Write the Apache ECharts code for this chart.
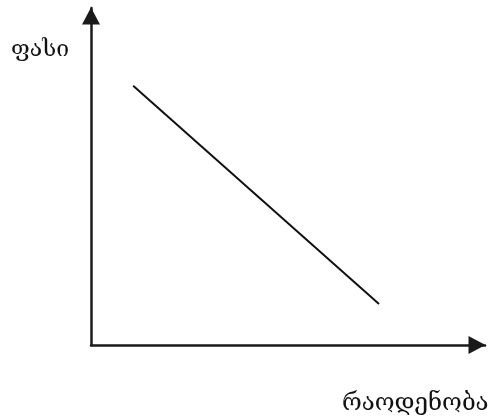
<!DOCTYPE html>
<html>
<head>
<meta charset="utf-8">
<script src="https://cdn.jsdelivr.net/npm/echarts@6/dist/echarts.min.js"></script>
<style>
  html, body { margin: 0; padding: 0; background: #fff; }
  #chart { width: 493px; height: 419px; }
</style>
</head>
<body>
<div id="chart"></div>
<script>
    // demand line: price vs quantity
    var quantity = [10.7, 73.1];
    var price = [76.9, 12.2];
    var xName = 'რაოდენობა';
    var yName = 'ფასი';

    var chart = echarts.init(document.getElementById('chart'));

    var hiddenAxis = {
        type: 'value',
        min: 0,
        max: 100,
        splitLine: { show: false },
        axisTick: { show: false },
        axisLabel: { show: false },
        axisLine: {
            show: true,
            symbol: ['none', 'triangle'],
            symbolSize: [18, 17],
            symbolOffset: [0, -8],
            lineStyle: { color: '#1a1a1a', width: 2.5 }
        }
    };

    var option = {
        animation: false,
        grid: { left: 91, right: 8, top: 8, bottom: 74 },
        xAxis: hiddenAxis,
        yAxis: hiddenAxis,
        graphic: [
            {
                type: 'text',
                x: 11,
                y: 50,
                style: { text: yName, font: '23px "DejaVu Serif"', fill: '#111', verticalAlign: 'middle' }
            },
            {
                type: 'text',
                x: 342,
                y: 404,
                style: { text: xName, font: '24px "DejaVu Serif"', fill: '#111', verticalAlign: 'middle' }
            }
        ],
        series: [
            {
                type: 'line',
                data: quantity.map(function (q, i) { return [q, price[i]]; }),
                symbol: 'none',
                lineStyle: { color: '#111', width: 2 }
            }
        ]
    };

    chart.setOption(option);
</script>
</body>
</html>
